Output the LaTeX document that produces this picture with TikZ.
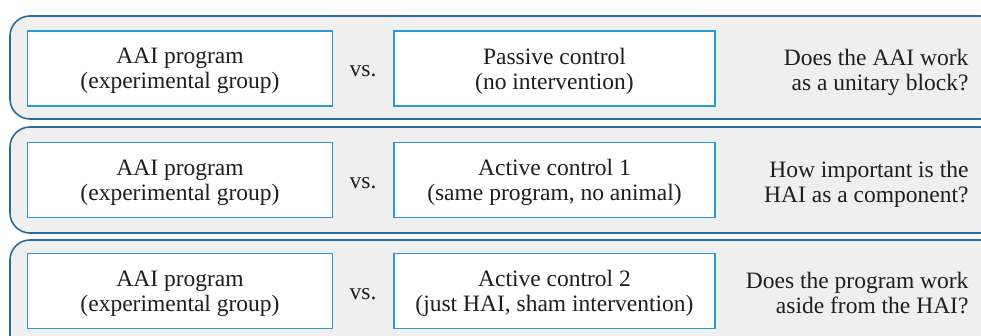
\documentclass[tikz,border=0pt]{standalone}
\usepackage{fontspec}
\setmainfont{Liberation Serif}
\definecolor{rowline}{RGB}{40,108,155}
\definecolor{rowfill}{RGB}{239,239,239}
\definecolor{boxline}{RGB}{40,155,216}
\definecolor{inktext}{RGB}{30,30,30}
\tikzset{
    rowpanel/.style={draw=rowline, fill=rowfill, line width=1.6pt, rounded corners=20pt},
    groupbox/.style={draw=boxline, fill=white, line width=1.6pt, minimum width=305pt, minimum height=75pt, align=center, text=inktext, inner sep=0pt, text depth=0pt},
    versus/.style={text=inktext},
    question/.style={anchor=east, align=right, text=inktext, text depth=0pt},
}
\begin{document}
\begin{tikzpicture}[x=1pt, y=-1pt, font=\fontsize{23.5}{25}\selectfont]
    \useasboundingbox (0,0) rectangle (981,336);
    \clip (0,0) rectangle (981,336);

    % three comparison rows
    \draw[rowpanel] (10,16) rectangle (1000,119);
    \draw[rowpanel] (10,127) rectangle (1000,233);
    \draw[rowpanel] (10,240) rectangle (1000,360);

    \node[groupbox] (aai1) at (180,68.5) {AAI program\\(experimental group)};
    \node[versus] (vs1) at (363,71) {vs.};
    \node[groupbox, minimum width=321pt] (ctrl1) at (554.5,68.5) {Passive control\\(no intervention)};
    \node[question] (q1) at (972,70) {Does the AAI work\\as a unitary block?};

    \node[groupbox] (aai2) at (180,180) {AAI program\\(experimental group)};
    \node[versus] (vs2) at (363,183) {vs.};
    \node[groupbox, minimum width=321pt] (ctrl2) at (554.5,180) {Active control 1\\(same program, no animal)};
    \node[question] (q2) at (972,181.5) {How important is the\\HAI as a component?};

    \node[groupbox] (aai3) at (180,291) {AAI program\\(experimental group)};
    \node[versus] (vs3) at (363,294) {vs.};
    \node[groupbox, minimum width=321pt] (ctrl3) at (554.5,291) {Active control 2\\(just HAI, sham intervention)};
    \node[question] (q3) at (972,292.5) {Does the program work\\aside from the HAI?};

\end{tikzpicture}
\end{document}
